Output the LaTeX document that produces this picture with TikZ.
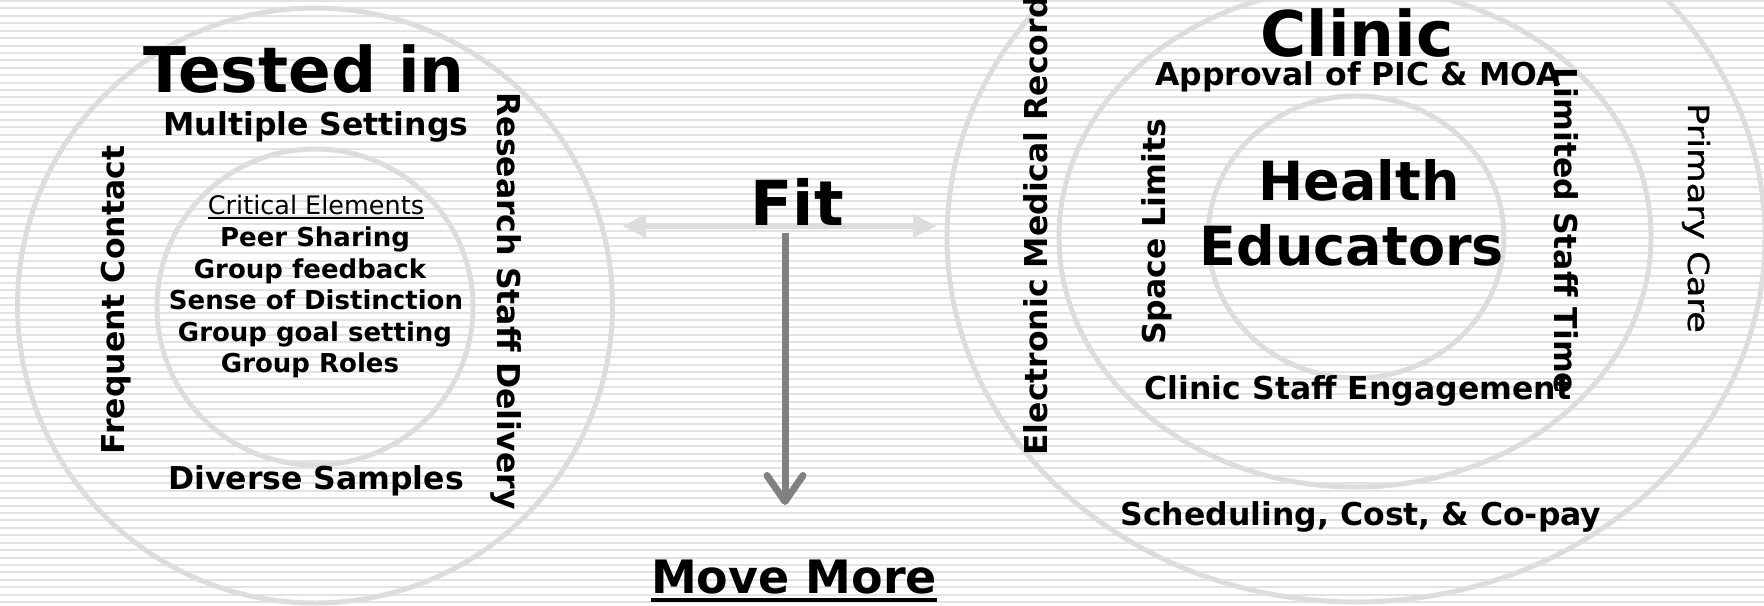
\documentclass[tikz,border=0pt]{standalone}
\usepackage{fontspec}
\setmainfont{DejaVu Sans}
\newfontfamily\pcfont[FakeBold=0.8]{DejaVu Sans}
\usetikzlibrary{arrows.meta}
\definecolor{ringc}{RGB}{221,221,221}
\definecolor{stripec}{RGB}{226,226,226}
\definecolor{arrowg}{RGB}{128,128,128}
\newcommand\fsz[1]{\fontsize{#1}{#1}\selectfont}
\begin{document}
\begin{tikzpicture}[x=1pt,y=-1pt,
  ring/.style={draw=ringc,line width=5pt},
  stripe/.style={draw=stripec,line width=2pt},
  lbl/.style={inner sep=0pt,anchor=base,font=\bfseries\fsz{31.5}},
  elem/.style={inner sep=0pt,anchor=base,font=\bfseries\fsz{26}},
  harrow/.style={draw=ringc,line width=6pt,arrows={Triangle[length=24pt,width=22pt]-Triangle[length=24pt,width=22pt]}},
  varrow/.style={draw=arrowg,line width=7pt,arrows={-Straight Barb[length=26pt,width=36pt,round]}},
  uline/.style={line width=#1}]
\useasboundingbox (0,0) rectangle (1764,605);
\clip (0,0) rectangle (1764,605);
\fill[white] (0,0) rectangle (1764,605);
\foreach \i in {0,...,82} \draw[stripe] (0,\i*7.42+1) -- (1764,\i*7.42+1);

% left target
\draw[ring] (315,305.5) circle[radius=297.5pt];
\draw[ring] (315,307) circle[radius=158pt];
% right target
\draw[ring] (1356,237) ellipse[x radius=148pt,y radius=141pt];
\draw[ring] (1355,237) ellipse[x radius=296pt,y radius=250pt];
\draw[ring] (1356,237) ellipse[x radius=409pt,y radius=365pt];

% arrows
\coordinate (hL) at (622,226);
\coordinate (hR) at (937,226);
\draw[harrow] (hL) -- (hR);
\coordinate (vT) at (785,233);
\coordinate (vB) at (785,505);
\draw[varrow] (vT) -- (vB);

% left texts
\node[lbl,font=\bfseries\fsz{63}] (tested) at (304,92) {Tested in};
\node[lbl] (multi) at (316,135) {Multiple Settings};
\node[lbl,font=\fsz{25.5}] (crit) at (316,214) {Critical Elements};
\draw[uline=1.5pt] ([yshift=-4pt]crit.base west) -- ([yshift=-4pt]crit.base east);
\node[elem] (peer) at (315,246) {Peer Sharing};
\node[elem] (gfb) at (310,278) {Group feedback};
\node[elem] (sod) at (316,309) {Sense of Distinction};
\node[elem] (ggs) at (315,341) {Group goal setting};
\node[elem] (roles) at (310,372) {Group Roles};
\node[lbl] (diverse) at (316,489) {Diverse Samples};
\node[lbl,rotate=90] (freq) at (124,300) {Frequent Contact};
\node[lbl,rotate=-90] (rsd) at (497,301) {Research Staff Delivery};

% middle texts
\node[lbl,font=\bfseries\fsz{62}] (fit) at (797,225) {Fit};
\node[lbl,font=\bfseries\fsz{46}] (move) at (794,593) {Move More};
\draw[uline=4pt] ([yshift=-7pt]move.base west) -- ([yshift=-7pt]move.base east);

% right texts
\node[lbl,font=\bfseries\fsz{63}] (clinic) at (1357,56) {Clinic};
\node[lbl] (approval) at (1358,85) {Approval of PIC \& MOA};
\node[lbl,font=\bfseries\fsz{54}] (health) at (1359,200) {Health};
\node[lbl,font=\bfseries\fsz{54}] (educ) at (1352,265) {Educators};
\node[lbl,rotate=90] (space) at (1165,232) {Space Limits};
\node[lbl,rotate=-90] (limited) at (1554,231) {Limited Staff Time};
\node[lbl,rotate=90] (emr) at (1047,226) {Electronic Medical Record};
\node[lbl,rotate=-90,font=\pcfont\fsz{29}] (primary) at (1688,218) {\scalebox{1.22}[1]{Primary Care}};
\node[lbl] (cse) at (1358,399) {Clinic Staff Engagement};
\node[lbl] (sched) at (1361,525) {Scheduling, Cost, \& Co-pay};
\end{tikzpicture}
\end{document}
